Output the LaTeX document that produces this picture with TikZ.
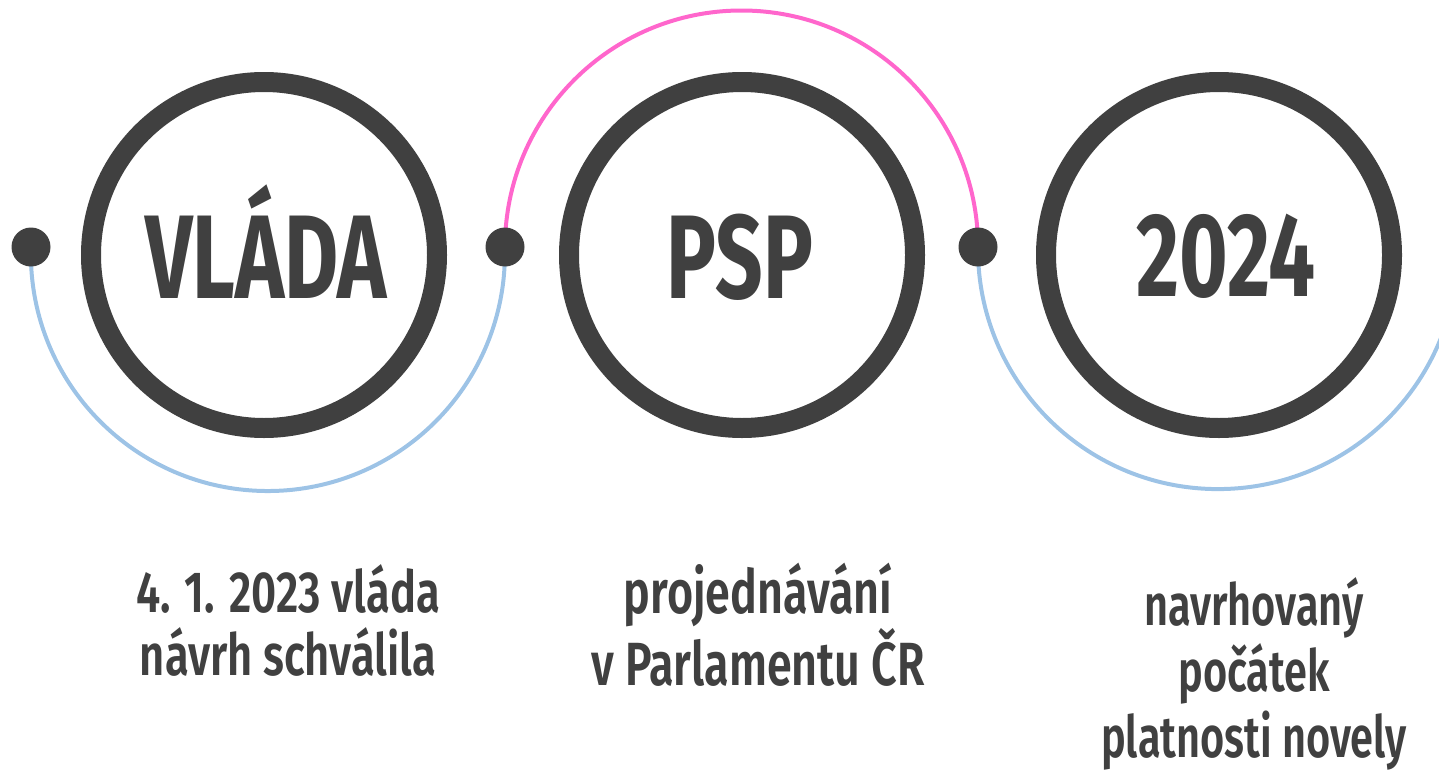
\documentclass[tikz,border=0pt]{standalone}
\usepackage{fontspec}
\setmainfont{Fira Sans}[FakeStretch=0.70]
\newfontfamily\capA{Fira Sans}[FakeStretch=0.75, BoldFont=* SemiBold]
\newfontfamily\capB{Fira Sans}[FakeStretch=0.735, BoldFont=* SemiBold]
\newfontfamily\capC{Fira Sans}[FakeStretch=0.715, BoldFont=* SemiBold]
\definecolor{dk}{HTML}{404040}
\definecolor{lblue}{HTML}{9DC3E6}
\definecolor{pinkc}{HTML}{FF66CC}
\begin{document}
\begin{tikzpicture}[x=1pt,y=-1pt,
  ring/.style={circle,draw=dk,line width=20pt,minimum size=346pt,inner sep=0pt},
  dotn/.style={circle,fill=dk,minimum size=39pt,inner sep=0pt},
  bluearc/.style={draw=lblue,line width=4pt},
  pinkarc/.style={draw=pinkc,line width=4pt},
  big/.style={text=dk,font=\fontsize{119}{119}\selectfont\bfseries,anchor=base,inner sep=0pt},
  captxt/.style={text=dk,align=center,anchor=base,inner sep=0pt}]
\useasboundingbox (0,0) rectangle (1439,771);
\clip (0,0) rectangle (1439,771);
% arcs
\coordinate (a1) at (31,247);
\coordinate (a2) at (505,247);
\coordinate (a3) at (978,247);
\draw[bluearc] (a1) arc[start angle=181.7,end angle=-1.7,radius=237];
\draw[pinkarc] (a2) arc[start angle=180,end angle=360,radius=236.5];
\draw[bluearc] (a3) arc[start angle=180.5,end angle=5,radius=240];
% dots
\node[dotn] (d1) at (a1) {};
\node[dotn] (d2) at (a2) {};
\node[dotn] (d3) at (a3) {};
% rings
\node[ring] (c1) at (264,255) {};
\node[ring] (c2) at (742,255) {};
\node[ring] (c3) at (1219,255) {};
\node[big] (t1) at (266,298) {VLÁDA};
\node[big] (t2) at (740,298) {PSP};
\node[big] (t3) at (1226,296) {2024};
% captions
\node[captxt,font=\capA\fontsize{58}{63}\selectfont\bfseries] (l1) at (288,675) {4. 1. 2023 vláda\\návrh schválila};
\node[captxt,font=\capB\fontsize{61}{67}\selectfont\bfseries] (l2) at (758,685) {projednávání\\v Parlamentu ČR};
\node[captxt,font=\capC\fontsize{58}{66}\selectfont\bfseries] (l3) at (1254,757) {navrhovaný\\počátek\\platnosti novely};
\end{tikzpicture}
\end{document}
